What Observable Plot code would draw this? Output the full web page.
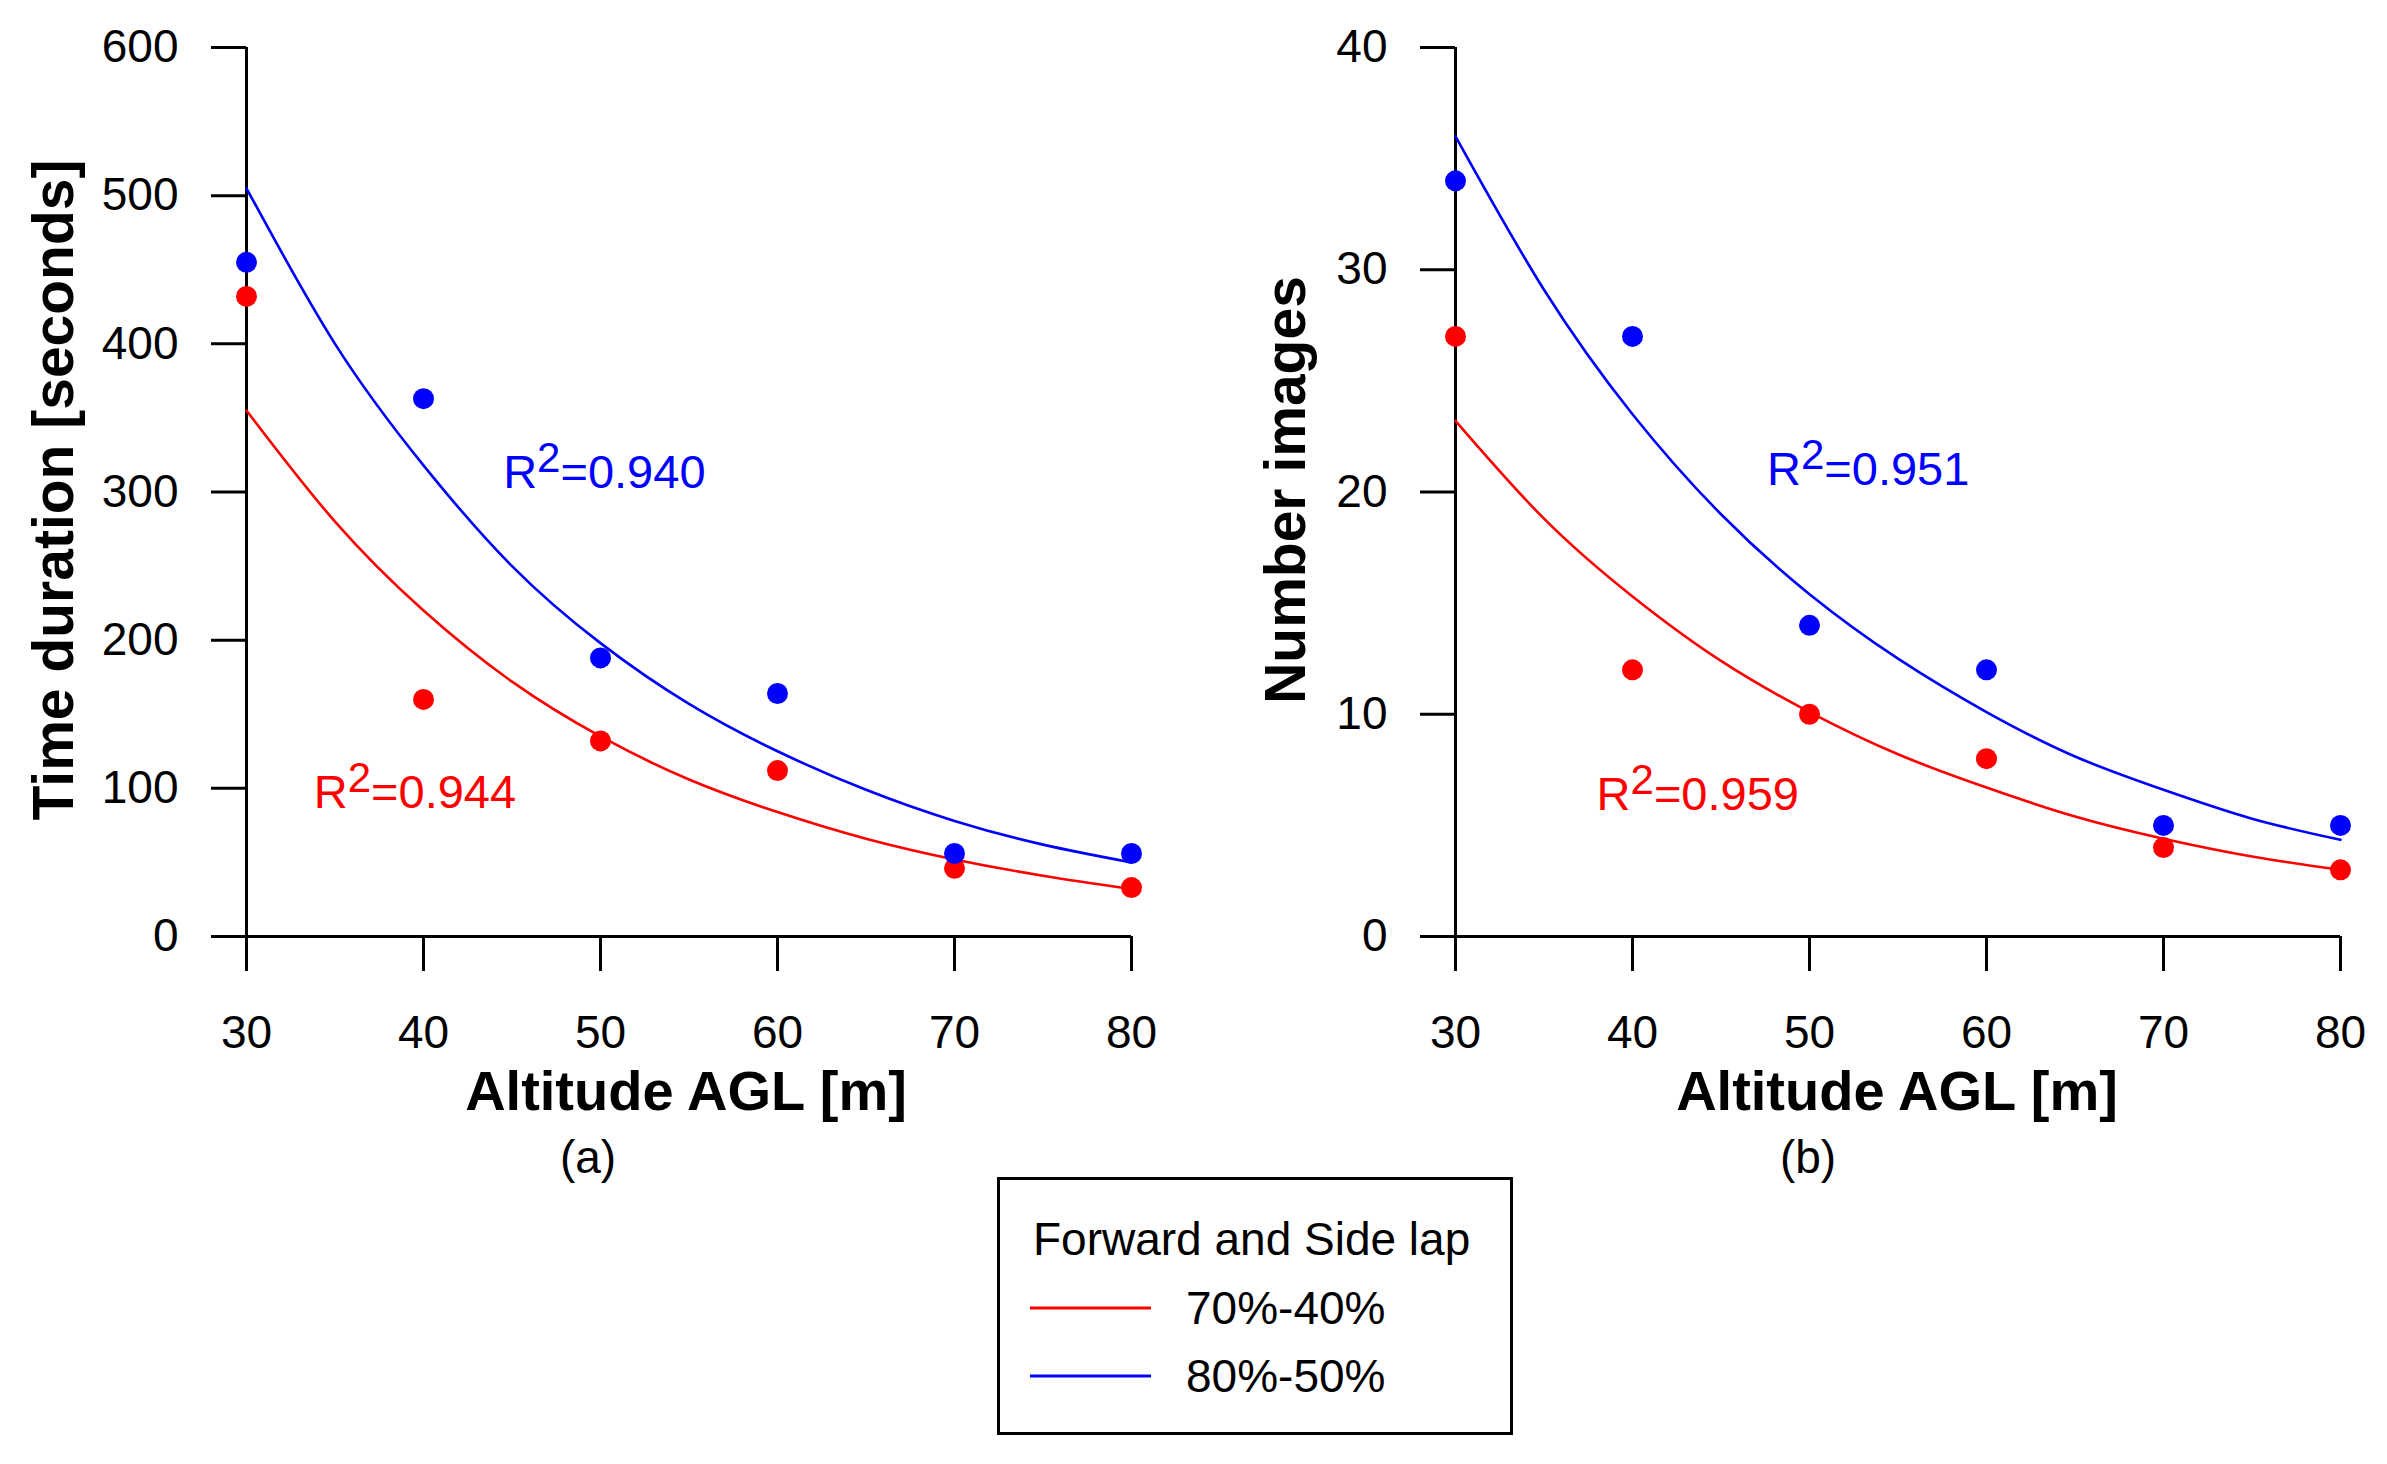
<!DOCTYPE html>
<html>
<head>
<meta charset="utf-8">
<script src="https://cdn.jsdelivr.net/npm/d3@7"></script>
<script src="https://cdn.jsdelivr.net/npm/@observablehq/plot@0.6"></script>
<style>
  body { margin: 0; background: #fff; }
  #page { position: relative; width: 2387px; height: 1464px; overflow: hidden; background: #fff;
          font-family: "Liberation Sans", Arial, sans-serif; }
  .panel { position: absolute; top: 0; }
  #legend { position: absolute; left: 997px; top: 1177px; }
</style>
</head>
<body>
<div id="page">
  <div id="left" class="panel" style="left:0px"></div>
  <div id="right" class="panel" style="left:1194px"></div>
  <div id="legend"></div>
</div>
<script>
// measured points
const altitude = [30, 40, 50, 60, 70, 80];
const timeLow = [432, 160, 132, 112, 46, 33];     // 70%-40%
const timeHigh = [455, 363, 188, 164, 56, 56];    // 80%-50%
const imagesLow = [27, 12, 10, 8, 4, 3];
const imagesHigh = [34, 27, 14, 12, 5, 5];

// fitted curves, every 5 m
const fitAltitude = [30, 35, 40, 45, 50, 55, 60, 65, 70, 75, 80];
const timeFitLow = [355, 280, 220, 172, 135, 106, 84, 66, 52, 41, 32];
const timeFitHigh = [505, 400, 318, 250, 198, 157, 125, 99, 78, 62, 50];
const imagesFitLow = [23.2, 18.8, 15.3, 12.4, 10.1, 8.2, 6.7, 5.4, 4.4, 3.6, 3.0];
const imagesFitHigh = [36, 29.1, 23.5, 19.0, 15.4, 12.5, 10.1, 8.1, 6.6, 5.3, 4.35];

const seriesNames = ["70%-40%", "80%-50%"];
const seriesColors = ["#ff0000", "#0000ff"];

const altitudeTicks = [30, 40, 50, 60, 70, 80];
const timeTicks = [0, 100, 200, 300, 400, 500, 600];
const imageTicks = [0, 10, 20, 30, 40];

// R² annotations (low, high)
const timeR2 = ["R2=0.944", "R2=0.940"];
const timeR2X = [33.8, 44.5];
const timeR2Y = [86.5, 302.7];
const imagesR2 = ["R2=0.959", "R2=0.951"];
const imagesR2X = [37.97, 47.6];
const imagesR2Y = [5.7, 20.3];

const font = "'Liberation Sans', Arial, sans-serif";

function rows(xs, a, b) {
  return [
    ...xs.map((x, i) => ({x, y: a[i], s: 0})),
    ...xs.map((x, i) => ({x, y: b[i], s: 1}))
  ];
}

function panel({width, marginLeft, marginRight, yMax, yTicks, low, high, fitLow, fitHigh,
                r2, r2x, r2y, yTitle, yTitleX, xTitleX, tag, tagX}) {
  const pts = rows(altitude, low, high);
  const labels = r2.map((t, i) => ({t, x: r2x[i], y: r2y[i], s: i}));
  const chart = Plot.plot({
    width,
    height: 1200,
    marginTop: 47,
    marginBottom: 264,
    marginLeft,
    marginRight,
    style: {fontFamily: font, color: "black", background: "white", overflow: "visible"},
    x: {domain: [30, 80]},
    y: {domain: [0, yMax]},
    marks: [
      Plot.axisY(yTicks, {tickSize: 35, tickPadding: 33, strokeWidth: 3, fontSize: 46, label: null}),
      Plot.axisX(altitudeTicks, {tickSize: 35, tickPadding: 44, strokeWidth: 3, fontSize: 46, label: null}),
      Plot.ruleX([30], {y1: 0, y2: yMax, stroke: "black", strokeWidth: 3}),
      Plot.ruleY([0], {x1: 30, x2: 80, stroke: "black", strokeWidth: 3}),
      Plot.line(fitAltitude.map((x, i) => ({x, y: fitLow[i]})),
        {x: "x", y: "y", stroke: seriesColors[0], strokeWidth: 2.6, curve: "natural"}),
      Plot.line(fitAltitude.map((x, i) => ({x, y: fitHigh[i]})),
        {x: "x", y: "y", stroke: seriesColors[1], strokeWidth: 2.6, curve: "natural"}),
      Plot.dot(pts, {x: "x", y: "y", r: 10.5, fill: d => seriesColors[d.s], stroke: null}),
      Plot.text(labels, {x: "x", y: "y", text: "t", fill: d => seriesColors[d.s],
        textAnchor: "start", lineAnchor: "bottom", fontSize: 47})
    ]
  });

  const svg = d3.select(chart);
  // superscript 2 in the R² labels
  svg.selectAll("text").filter(function() { return /^R2=/.test(this.textContent); })
    .each(function() {
      const rest = this.textContent.slice(2);
      const t = d3.select(this).text(null);
      t.append("tspan").text("R");
      t.append("tspan").attr("font-size", 42).attr("dy", -16).text("2");
      t.append("tspan").attr("dy", 16).text(rest);
    });

  svg.append("text")
    .attr("transform", `translate(${yTitleX},490) rotate(-90)`)
    .attr("text-anchor", "middle")
    .attr("dy", "0.35em")
    .attr("font-family", font).attr("font-weight", "bold").attr("font-size", 57)
    .text(yTitle);
  svg.append("text")
    .attr("x", xTitleX).attr("y", 1110)
    .attr("text-anchor", "middle")
    .attr("font-family", font).attr("font-weight", "bold").attr("font-size", 56)
    .text("Altitude AGL [m]");
  svg.append("text")
    .attr("x", tagX).attr("y", 1173)
    .attr("text-anchor", "middle")
    .attr("font-family", font).attr("font-size", 46)
    .text(tag);
  return chart;
}

d3.select("#left").append(() => panel({
  width: 1194, marginLeft: 246, marginRight: 63, yMax: 600, yTicks: timeTicks,
  low: timeLow, high: timeHigh, fitLow: timeFitLow, fitHigh: timeFitHigh,
  r2: timeR2, r2x: timeR2X, r2y: timeR2Y,
  yTitle: "Time duration [seconds]", yTitleX: 53, xTitleX: 686, tag: "(a)", tagX: 588
}));

d3.select("#right").append(() => panel({
  width: 1193, marginLeft: 261, marginRight: 47, yMax: 40, yTicks: imageTicks,
  low: imagesLow, high: imagesHigh, fitLow: imagesFitLow, fitHigh: imagesFitHigh,
  r2: imagesR2, r2x: imagesR2X, r2y: imagesR2Y,
  yTitle: "Number images", yTitleX: 1285 - 1194, xTitleX: 1897 - 1194, tag: "(b)", tagX: 1808 - 1194
}));

// legend box
const lg = d3.select("#legend").append("svg")
  .attr("width", 518).attr("height", 260)
  .style("font-family", font);
lg.append("rect").attr("x", 1.5).attr("y", 1.5).attr("width", 513).attr("height", 255)
  .attr("fill", "white").attr("stroke", "black").attr("stroke-width", 3);
lg.append("text").attr("x", 36).attr("y", 78).attr("font-size", 46).text("Forward and Side lap");
seriesNames.forEach((name, i) => {
  const yLine = 131 + i * 68;
  lg.append("line").attr("x1", 33).attr("x2", 154).attr("y1", yLine).attr("y2", yLine)
    .attr("stroke", seriesColors[i]).attr("stroke-width", 3);
  lg.append("text").attr("x", 189).attr("y", yLine + 16).attr("font-size", 46).text(name);
});
</script>
</body>
</html>
